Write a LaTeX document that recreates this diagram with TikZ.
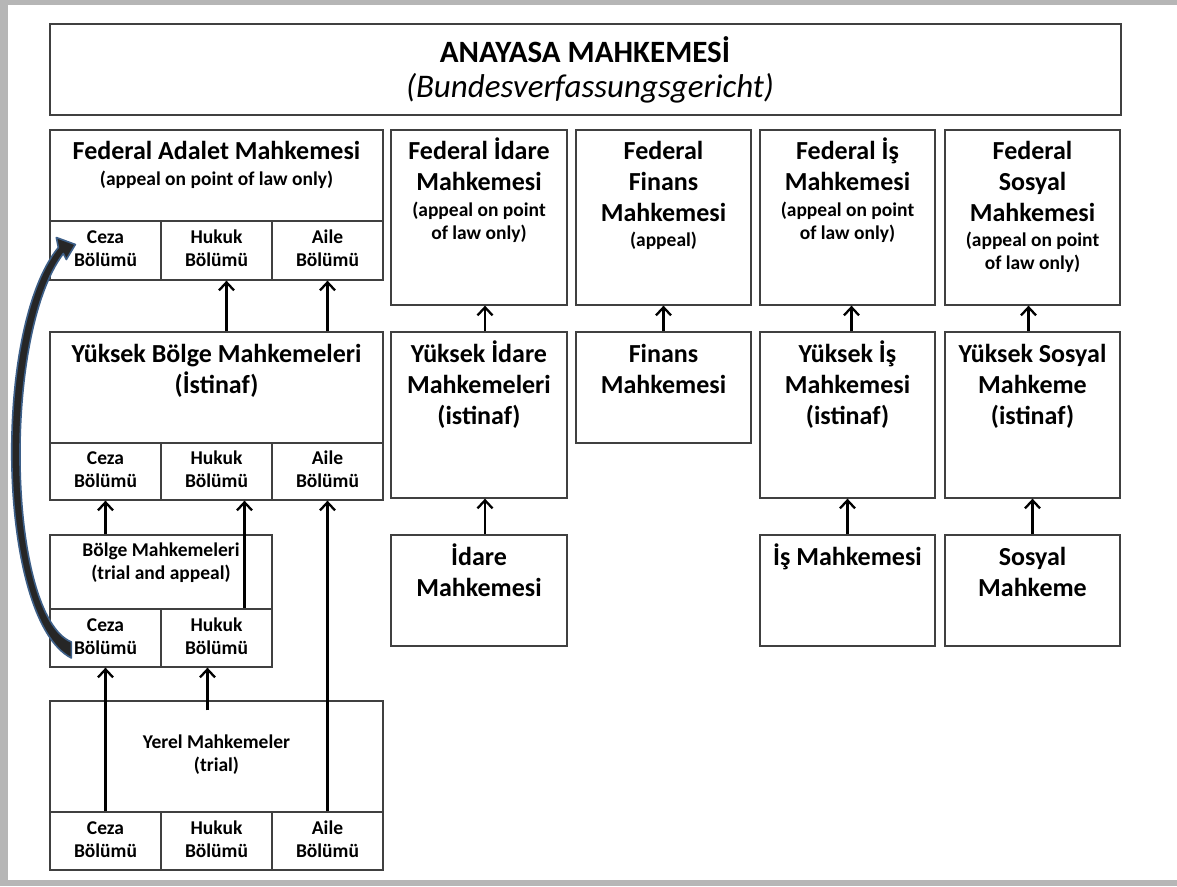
\documentclass[tikz,border=0pt]{standalone}
\usepackage{fontspec}
\setmainfont{Carlito}
\usetikzlibrary{positioning}
\usetikzlibrary{arrows.meta}
\usetikzlibrary{calc}

\definecolor{boxline}{HTML}{404040}
\definecolor{arcblue}{HTML}{3D5F88}
\definecolor{framegray}{HTML}{B6B6B6}

\newcommand{\bolumcell}[1]{\strut #1\\\strut Bölümü}

\tikzset{
  box/.style={draw=boxline, line width=1.3pt, inner sep=0pt},
  cell/.style={box, minimum width=111pt, font=\bfseries\fontsize{19.5}{23}\selectfont, align=center},
  big/.style={anchor=north, inner sep=0pt, align=center, font=\bfseries\fontsize{26}{31}\selectfont},
  small/.style={anchor=north, inner sep=0pt, align=center, font=\bfseries\fontsize{19.5}{23}\selectfont},
  up/.style={line width=2.6pt, -{Straight Barb[length=8pt,width=15pt,line width=2.3pt]}},
}

\begin{document}
\begin{tikzpicture}[x=1pt,y=-1pt]

\useasboundingbox (0,0) rectangle (1177,886);
\fill[framegray] (0,0) rectangle (1177,886);
\fill[white] (8,5) rectangle (1177,880);

% Anayasa
\node[box, minimum width=1071pt, minimum height=91pt] (anayasa) at (585.5,69.5) {};
\node[anchor=base, inner sep=0pt, font=\bfseries\fontsize{31}{36}\selectfont] (anayasaT) at (585,62) {ANAYASA MAHKEMESİ};
\node[anchor=base, inner sep=0pt, font=\itshape\fontsize{33}{36}\selectfont] (anayasaS) at (590,97) {(Bundesverfassungsgericht)};

% federal courts
\node[box, minimum width=333pt, minimum height=91pt] (fa) at (216.5,175.5) {};
\node[cell, minimum height=59pt] (faC) at (105.5,250.5) {\bolumcell{Ceza}};
\node[cell, minimum height=59pt] (faH) at (216.5,250.5) {\bolumcell{Hukuk}};
\node[cell, minimum height=59pt] (faA) at (327.5,250.5) {\bolumcell{Aile}};
\node[big] (faT) at (216.5,141) {Federal Adalet Mahkemesi};
\node[small] (faS) at (216.5,171) {(appeal on point of law only)};

\node[box, minimum width=176pt, minimum height=175pt] (fi) at (479,217.5) {};
\node[big] (fiT) at (479,137.5) {Federal İdare\\Mahkemesi};
\node[small] (fiS) at (479,202) {(appeal on point\\of law only)};

\node[box, minimum width=175pt, minimum height=175pt] (ff) at (663.5,217.5) {};
\node[big] (ffT) at (663.5,141) {Federal\\Finans\\Mahkemesi};
\node[small] (ffS) at (663.5,232) {(appeal)};

\node[box, minimum width=175pt, minimum height=175pt] (fis) at (847.5,217.5) {};
\node[big] (fisT) at (847.5,137.5) {Federal İş\\Mahkemesi};
\node[small] (fisS) at (847.5,202) {(appeal on point\\of law only)};

\node[box, minimum width=175pt, minimum height=175pt] (fs) at (1032.5,217.5) {};
\node[big] (fsT) at (1032.5,141) {Federal\\Sosyal\\Mahkemesi};
\node[small] (fsS) at (1032.5,232) {(appeal on point\\of law only)};

% appeal courts
\node[box, minimum width=333pt, minimum height=111pt] (yb) at (216.5,387.5) {};
\node[cell, minimum height=57pt] (ybC) at (105.5,471.5) {\bolumcell{Ceza}};
\node[cell, minimum height=57pt] (ybH) at (216.5,471.5) {\bolumcell{Hukuk}};
\node[cell, minimum height=57pt] (ybA) at (327.5,471.5) {\bolumcell{Aile}};
\node[big] (ybT) at (216.5,344) {Yüksek Bölge Mahkemeleri\\(İstinaf)};

\node[box, minimum width=176pt, minimum height=166pt] (yi) at (479,415) {};
\node[big] (yiT) at (479,340.5) {Yüksek İdare\\Mahkemeleri\\(istinaf)};

\node[box, minimum width=175pt, minimum height=111pt] (fm) at (663.5,387.5) {};
\node[big] (fmT) at (663.5,344) {Finans\\Mahkemesi};

\node[box, minimum width=175pt, minimum height=166pt] (yis) at (847.5,415) {};
\node[big] (yisT) at (847.5,340.5) {Yüksek İş\\Mahkemesi\\(istinaf)};

\node[box, minimum width=175pt, minimum height=166pt] (ys) at (1032.5,415) {};
\node[big] (ysT) at (1032.5,344) {Yüksek Sosyal\\Mahkeme\\(istinaf)};

% first instance
\node[box, minimum width=222pt, minimum height=74pt] (bg) at (161,572) {};
\node[cell, minimum height=58pt] (bgC) at (105.5,638) {\bolumcell{Ceza}};
\node[cell, minimum height=58pt] (bgH) at (216.5,638) {\bolumcell{Hukuk}};
\node[small] (bgT) at (161,543) {Bölge Mahkemeleri\\(trial and appeal)};

\node[box, minimum width=176pt, minimum height=111pt] (im) at (479,590.5) {};
\node[big] (imT) at (479,543.5) {İdare\\Mahkemesi};

\node[box, minimum width=175pt, minimum height=111pt] (ism) at (847.5,590.5) {};
\node[big] (ismT) at (847.5,543.5) {İş Mahkemesi};

\node[box, minimum width=175pt, minimum height=111pt] (sm) at (1032.5,590.5) {};
\node[big] (smT) at (1032.5,547) {Sosyal\\Mahkeme};

\node[box, minimum width=333pt, minimum height=111pt] (ye) at (216.5,756.5) {};
\node[cell, minimum height=58pt] (yeC) at (105.5,841) {\bolumcell{Ceza}};
\node[cell, minimum height=58pt] (yeH) at (216.5,841) {\bolumcell{Hukuk}};
\node[cell, minimum height=58pt] (yeA) at (327.5,841) {\bolumcell{Aile}};
\node[small] (yeT) at (216.5,735) {Yerel Mahkemeler\\(trial)};

% arrows
\draw[up] ($(yb.north -| faH)+(10,0)$) -- ($(faH.south)+(10,0)$);
\draw[up] (yb.north -| faA) -- (faA.south);
\draw[up] (bg.north -| ybC) -- (ybC.south);
\draw[up] ($(bgH.north)+(28,0)$) -- ($(ybH.south)+(28,0)$);
\draw[up] (yeC.north) -- (bgC.south);
\draw[up] ($(ye.north -| bgH)+(-9,10)$) -- ($(bgH.south)+(-9,0)$);
\draw[up] (yeA.north) -- (ybA.south);

\draw[up] ($(yi.north)+(6,0)$) -- ($(fi.south)+(6,0)$);
\draw[up] (fm.north) -- (ff.south);
\draw[up] ($(yis.north)+(4,0)$) -- ($(fis.south)+(4,0)$);
\draw[up] ($(ys.north)+(-4,0)$) -- ($(fs.south)+(-4,0)$);
\draw[up] ($(im.north)+(6,0)$) -- ($(yi.south)+(6,0)$);
\draw[up] (ism.north) -- (yis.south);
\draw[up] (sm.north) -- (ys.south);

% ceza arc
\coordinate (arcTail) at ($(bgC.west)+(22,12)$);
\coordinate (arcTip) at ($(faC.west)+(26,-6)$);
\filldraw[fill=black!85, draw=arcblue, line width=1.6pt, line join=round]
  ($(arcTail)+(0,8)$) .. controls +(-74,-38) and +(-67,82) .. ($(arcTip)+(-17,3)$)
  -- ($(arcTip)+(-19,-7)$) -- (arcTip) -- ($(arcTip)+(-9,15)$) -- ($(arcTip)+(-12,9)$)
  .. controls +(-62,82) and +(-64,-27) .. ($(arcTail)+(0,-8)$) -- cycle;

\end{tikzpicture}
\end{document}
